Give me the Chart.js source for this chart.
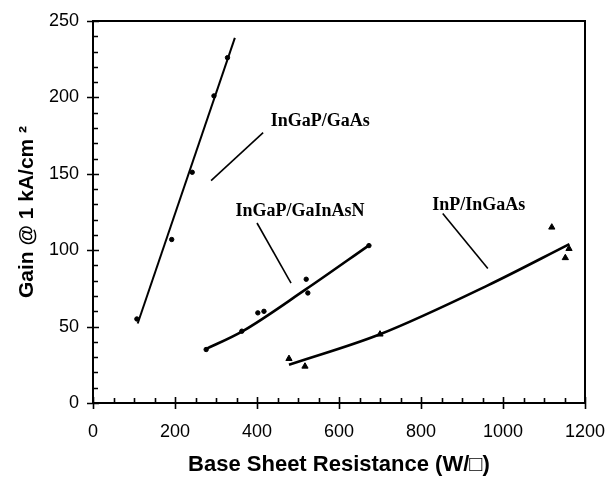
<!DOCTYPE html>
<html>
<head>
<meta charset="utf-8">
<script src="https://cdn.jsdelivr.net/npm/chart.js@4.4.0/dist/chart.umd.min.js"></script>
<style>
  html,body{margin:0;padding:0;background:#fff;}
  #wrap{width:610px;height:478px;}
</style>
</head>
<body>
<div id="wrap"><canvas id="chart" width="610" height="478"></canvas></div>
<script>
// InGaP/GaAs measured points + fit
const gaasX = [107, 192, 242, 295, 328];
const gaasY = [55, 107, 151, 201, 226];
const gaasFitX = [109, 346];
const gaasFitY = [52, 239];

// InGaP/GaInAsN measured points + fit
const ganX = [276, 363, 402, 417, 520, 524, 673];
const ganY = [35, 47, 59, 60, 81, 72, 103];
const ganFitX = [273, 363, 517, 673];
const ganFitY = [35, 46.7, 74, 103.2];

// InP/InGaAs measured points + fit
const inpX = [478, 517, 700, 1119, 1161, 1152];
const inpY = [29, 24, 45, 115, 101, 95];
const inpFitX = [478, 700, 963, 1162];
const inpFitY = [25, 45, 77, 104];

const xTicks = [0, 200, 400, 600, 800, 1000, 1200];
const yTicks = [0, 50, 100, 150, 200, 250];

function pts(xs, ys){ return xs.map((x,i)=>({x:x, y:ys[i]})); }

// labels and leader lines, in data units
const notes = [
  { text:'InGaP/GaAs',    at:[554, 184.5], from:[415, 177], to:[288, 145.5] },
  { text:'InGaP/GaInAsN', at:[505, 125.7], from:[400, 117.8], to:[483, 78.5] },
  { text:'InP/InGaAs',    at:[941, 129.6], from:[853, 124], to:[963, 88] }
];

Chart.defaults.font.family = "'Liberation Sans', Arial, sans-serif";
Chart.defaults.color = '#000';

const frame = {
  id:'frame',
  afterDraw(chart){
    const {ctx, chartArea:a, scales:{x, y}} = chart;
    ctx.save();
    ctx.strokeStyle = '#000';
    ctx.lineWidth = 2;
    ctx.strokeRect(a.left, a.top, a.right - a.left, a.bottom - a.top);
    ctx.lineWidth = 1.6;
    ctx.beginPath();
    for(let v=0; v<=250; v+=10){
      const py = Math.round(y.getPixelForValue(v)) + 0.5;
      if(v % 50 === 0){ ctx.moveTo(a.left-6, py); ctx.lineTo(a.left+6, py); }
      else { ctx.moveTo(a.left, py); ctx.lineTo(a.left+5, py); }
    }
    for(let v=0; v<=1200; v+=50){
      const px = Math.round(x.getPixelForValue(v)) + 0.5;
      if(v % 200 === 0){ ctx.moveTo(px, a.bottom+6); ctx.lineTo(px, a.bottom-6); }
      else { ctx.moveTo(px, a.bottom); ctx.lineTo(px, a.bottom-5); }
    }
    ctx.stroke();

    // annotations
    ctx.font = "bold 18px 'Liberation Serif', 'Times New Roman', serif";
    ctx.fillStyle = '#000';
    ctx.textAlign = 'center';
    ctx.textBaseline = 'middle';
    ctx.lineWidth = 1.6;
    notes.forEach(n=>{
      ctx.fillText(n.text, x.getPixelForValue(n.at[0]), y.getPixelForValue(n.at[1]));
      ctx.beginPath();
      ctx.moveTo(x.getPixelForValue(n.from[0]), y.getPixelForValue(n.from[1]));
      ctx.lineTo(x.getPixelForValue(n.to[0]), y.getPixelForValue(n.to[1]));
      ctx.stroke();
    });
    ctx.restore();
  }
};

const dotStyle = { showLine:false, pointStyle:'circle', pointRadius:2.2, pointBackgroundColor:'#000', pointBorderColor:'#000', borderColor:'#000', backgroundColor:'#000' };
const fitStyle = { showLine:true, pointRadius:0, borderColor:'#000', borderWidth:2.6, fill:false, cubicInterpolationMode:'monotone' };

new Chart(document.getElementById('chart'), {
  type:'scatter',
  data:{
    datasets:[
      Object.assign({ label:'InGaP/GaAs', data:pts(gaasX, gaasY) }, dotStyle),
      Object.assign({ label:'InGaP/GaAs fit', data:pts(gaasFitX, gaasFitY) }, fitStyle, { borderWidth:2 }),
      Object.assign({ label:'InGaP/GaInAsN', data:pts(ganX, ganY) }, dotStyle),
      Object.assign({ label:'InGaP/GaInAsN fit', data:pts(ganFitX, ganFitY) }, fitStyle),
      Object.assign({ label:'InP/InGaAs', data:pts(inpX, inpY) }, dotStyle, { pointStyle:'triangle', pointRadius:3.6 }),
      Object.assign({ label:'InP/InGaAs fit', data:pts(inpFitX, inpFitY) }, fitStyle)
    ]
  },
  options:{
    responsive:false,
    animation:false,
    devicePixelRatio:1,
    layout:{ padding:{ top:21, right:25, left:0, bottom:0 } },
    plugins:{ legend:{ display:false }, tooltip:{ enabled:false } },
    scales:{
      x:{
        type:'linear', min:0, max:1200,
        afterBuildTicks(s){ s.ticks = xTicks.map(v=>({value:v})); },
        ticks:{ font:{ size:18 }, color:'#000', padding:12, maxRotation:0, callback:v=>String(v) },
        grid:{ display:false, drawTicks:true, tickLength:6 },
        border:{ display:false },
        title:{ display:true, text:'Base Sheet Resistance (W/\u25A1)', font:{ size:22, weight:'bold' }, color:'#000', padding:{ top:0, bottom:0 } },
        afterFit(s){ s.height = 75; s.paddingLeft = 0; s.paddingRight = 0; }
      },
      y:{
        type:'linear', min:0, max:250,
        afterBuildTicks(s){ s.ticks = yTicks.map(v=>({value:v})); },
        ticks:{ font:{ size:18 }, color:'#000', padding:8 },
        grid:{ display:false, drawTicks:true, tickLength:6 },
        border:{ display:false },
        title:{ display:true, text:'Gain @ 1 kA/cm \u00B2', font:{ size:21, weight:'bold' }, color:'#000', padding:{ top:15, bottom:0 } },
        afterFit(s){ s.width = 93; s.paddingTop = 0; s.paddingBottom = 0; }
      }
    }
  },
  plugins:[frame]
});
</script>
</body>
</html>
